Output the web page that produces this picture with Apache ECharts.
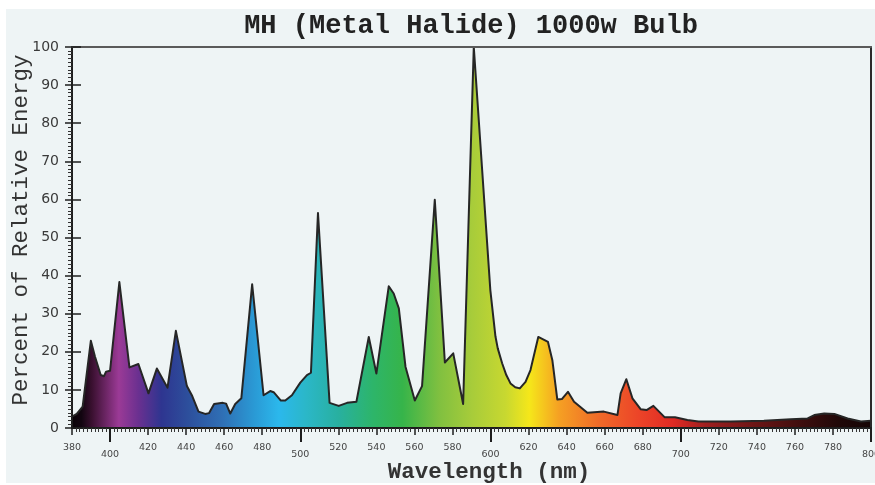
<!DOCTYPE html>
<html>
<head>
<meta charset="utf-8">
<title>MH (Metal Halide) 1000w Bulb</title>
<script src="https://cdn.jsdelivr.net/npm/echarts@6/dist/echarts.min.js"></script>
<style>
  html, body { margin: 0; padding: 0; background: #ffffff; }
  #chart { width: 875px; height: 485px; }
</style>
</head>
<body>
<div id="chart"></div>
<script>
// Spectral power distribution of a 1000 W metal halide lamp
const wavelengths = [
  380, 382.5, 385.6, 389.9, 392.1, 395.1, 396.8, 397.9, 400, 404.9,
  410.2, 414.9, 420.2, 424.6, 430.2, 434.6, 440.4, 443, 446.5, 450,
  452, 454.7, 459.3, 461, 463.2, 465.8, 469, 474.7, 480.7, 484.2,
  486, 489.8, 492.1, 495.6, 500, 503.5, 505.6, 509.3, 515.4, 520.2,
  524.6, 529.5, 536, 540, 546.5, 549.1, 551.8, 555.3, 560.2, 564,
  570.7, 576, 580.4, 585.6, 591.2, 599.9, 602.6, 603.8, 606.1, 608.3,
  610.5, 613, 615.4, 618.4, 621, 625.1, 630.2, 632.5, 635.1, 637.5,
  640.7, 643.9, 650.9, 659.6, 666.7, 668.4, 671.4, 674.6, 679, 682,
  685.6, 691.6, 697, 703.5, 709.3, 726.3, 743.7, 757.9, 766.7, 770.2,
  775.4, 780.7, 787.7, 794.7, 800
];
const energy = [
  3.0, 3.7, 5.6, 22.9, 18.7, 13.9, 13.6, 14.8, 15.0, 38.3,
  15.9, 16.8, 9.1, 15.6, 10.6, 25.5, 11.0, 8.6, 4.3, 3.7,
  3.9, 6.3, 6.6, 6.4, 3.8, 6.3, 7.8, 37.7, 8.6, 9.7,
  9.4, 7.2, 7.2, 8.6, 11.9, 13.9, 14.5, 56.4, 6.6, 5.8,
  6.6, 6.9, 23.9, 14.3, 37.2, 35.3, 31.4, 16.1, 7.2, 11.0,
  59.9, 17.2, 19.6, 6.3, 100, 36.2, 24.0, 20.9, 17.0, 13.9,
  11.7, 10.7, 10.4, 12.1, 15.2, 23.9, 22.6, 17.8, 7.5, 7.6,
  9.5, 6.9, 4.0, 4.3, 3.4, 9.1, 12.8, 7.8, 4.9, 4.7,
  5.8, 2.8, 2.8, 2.1, 1.7, 1.7, 1.9, 2.3, 2.5, 3.4,
  3.8, 3.7, 2.5, 1.7, 1.9
];

// Tick labels on the wavelength axis: every 20 nm, hundreds set lower
const xStepLabels = [380, 420, 440, 460, 480, 520, 540, 560, 580, 620, 640, 660, 680, 720, 740, 760, 780];
const xHundredLabels = [400, 500, 600, 700, 800];
const yMin = 0, yMax = 100, yStep = 10;
const xMin = 380, xMax = 800, xStep = 20;

// Visible-spectrum colour ramp (wavelength in nm -> colour)
const spectrumNm = [380, 385, 390.5, 404.6, 415, 427, 441, 459, 476, 488.8, 503, 520, 538, 553.7, 573, 590.5, 608, 620.4, 636, 657, 678, 695.8, 713, 740, 766, 783, 800];
const spectrumColors = ['#0a0308', '#120510', '#3a1030', '#9b3a96', '#6a3090', '#2e3590', '#2d4f9c', '#2f6fb5', '#2a9ad5', '#2bb8ec', '#2bb7c8', '#28b0a0', '#2db56a', '#36b44a', '#80c040', '#a8cc3a', '#c8d830', '#f5e71a', '#f5a023', '#f06a28', '#ec4428', '#e02a24', '#a01f1f', '#6a1515', '#3a0d0d', '#200808', '#150505'];

const seriesData = wavelengths.map((w, i) => [w, energy[i]]);
const gradientStops = spectrumNm.map((nm, i) => ({
  offset: (nm - xMin) / (xMax - xMin),
  color: spectrumColors[i]
}));

const monoFont = '"Liberation Mono", "Courier New", monospace';
const tickFont = '"DejaVu Sans", Verdana, sans-serif';
const ink = '#1e1e1e';

const chart = echarts.init(document.getElementById('chart'), null, { renderer: 'canvas' });

chart.setOption({
  animation: false,
  backgroundColor: '#ffffff',
  graphic: [
    {
      type: 'rect', z: -10, silent: true,
      shape: { x: 6, y: 9, width: 869, height: 474 },
      style: { fill: '#eef4f5' }
    },
    {
      type: 'text', z: 20, silent: true,
      x: 471, y: 26,
      style: {
        text: 'MH (Metal Halide) 1000w Bulb',
        font: 'bold 27px ' + monoFont,
        fill: '#222222', textAlign: 'center', textVerticalAlign: 'middle'
      }
    },
    {
      type: 'text', z: 20, silent: true,
      x: 21, y: 230, rotation: Math.PI / 2,
      style: {
        text: 'Percent of Relative Energy',
        font: '22.5px ' + monoFont,
        fill: '#333333', textAlign: 'center', textVerticalAlign: 'middle'
      }
    },
    {
      type: 'text', z: 20, silent: true,
      x: 489, y: 472,
      style: {
        text: 'Wavelength (nm)',
        font: 'bold 22.5px ' + monoFont,
        fill: '#333333', textAlign: 'center', textVerticalAlign: 'middle'
      }
    }
  ],
  grid: { left: 72, right: 4, top: 47, bottom: 57, show: false, containLabel: false, outerBoundsMode: 'none' },
  xAxis: [
    {
      type: 'value', min: xMin, max: xMax, interval: xStep, position: 'bottom', z: 10,
      axisLine: { show: true, onZero: false, lineStyle: { color: ink, width: 2 } },
      axisTick: { show: true, length: 7, lineStyle: { color: ink, width: 1.5 } },
      minorTick: { show: true, splitNumber: 10, length: 4, lineStyle: { color: '#333', width: 1 } },
      axisLabel: { customValues: xStepLabels, margin: 15, fontFamily: tickFont, fontSize: 9.5, color: '#444' },
      splitLine: { show: false }, minorSplitLine: { show: false }
    },
    {
      type: 'value', min: xMin, max: xMax, position: 'bottom', z: 10,
      axisLine: { show: false },
      axisTick: { show: true, customValues: xHundredLabels, length: 14, lineStyle: { color: ink, width: 2 } },
      axisLabel: { show: true, customValues: xHundredLabels, margin: 22, fontFamily: tickFont, fontSize: 9.5, color: '#444' },
      splitLine: { show: false }
    },
    {
      type: 'value', min: xMin, max: xMax, position: 'top', z: 10,
      axisLine: { show: true, onZero: false, lineStyle: { color: '#5a5a5a', width: 2 } },
      axisTick: { show: false }, axisLabel: { show: false }, splitLine: { show: false }
    }
  ],
  yAxis: [
    {
      type: 'value', min: yMin, max: yMax, interval: yStep, position: 'left', z: 10,
      axisLine: { show: true, onZero: false, lineStyle: { color: ink, width: 2 } },
      axisTick: { show: true, length: 7, lineStyle: { color: ink, width: 1.5 } },
      minorTick: { show: true, splitNumber: 10, length: 4, lineStyle: { color: '#333', width: 1 } },
      axisLabel: { margin: 13, fontFamily: tickFont, fontSize: 14, color: '#3a3a3a' },
      splitLine: { show: false }, minorSplitLine: { show: false }
    },
    {
      type: 'value', min: yMin, max: yMax, interval: yStep, position: 'left', z: 10,
      axisLine: { show: false },
      axisTick: { show: true, inside: true, length: 9, lineStyle: { color: ink, width: 1.5 } },
      axisLabel: { show: false }, splitLine: { show: false }
    },
    {
      type: 'value', min: yMin, max: yMax, position: 'right', z: 10,
      axisLine: { show: true, onZero: false, lineStyle: { color: '#2a2a2a', width: 2 } },
      axisTick: { show: false }, axisLabel: { show: false }, splitLine: { show: false }
    }
  ],
  series: [
    {
      type: 'line',
      xAxisIndex: 0, yAxisIndex: 0,
      data: seriesData,
      showSymbol: false,
      smooth: false,
      clip: false,
      lineStyle: { color: '#262626', width: 2, join: 'round' },
      areaStyle: {
        opacity: 1,
        color: new echarts.graphic.LinearGradient(0, 0, 1, 0, gradientStops)
      },
      z: 2
    }
  ]
});
</script>
</body>
</html>
